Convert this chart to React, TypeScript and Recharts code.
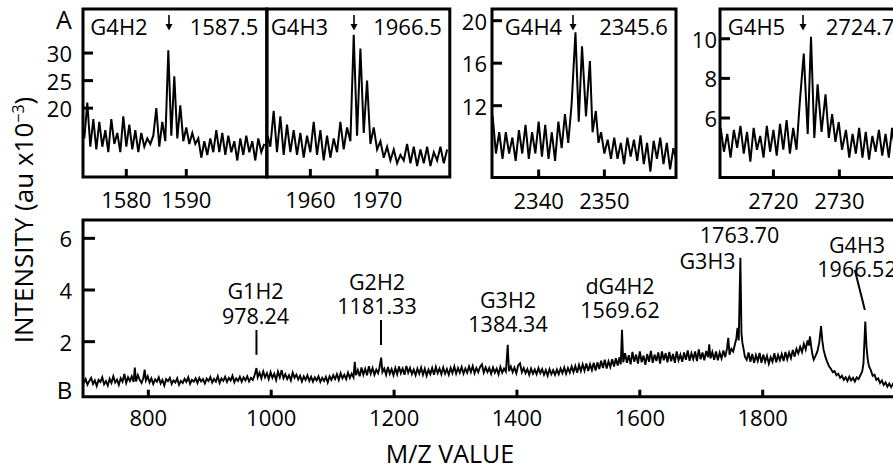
import React from "react";
import { LineChart, Line, XAxis, YAxis, ReferenceArea, ReferenceLine } from "recharts";

const FONT = '"Open Sans", sans-serif';

// panel A insets: [m/z, intensity au x10^-3]
const g4h2: [number, number][] = [
  [1573, 14.5], [1573.5, 21], [1574, 13], [1574.5, 18], [1575, 12.5], [1575.5, 17.5], [1576, 13], [1576.5, 16],
  [1577, 12], [1577.5, 18], [1578, 13.5], [1578.5, 15.5], [1579, 12], [1579.5, 18.5], [1580, 13], [1580.5, 17],
  [1581, 12.5], [1581.5, 16], [1582, 12], [1582.5, 15.5], [1583, 13], [1583.5, 14.5], [1584, 13.5], [1584.5, 15],
  [1585, 20], [1585.5, 13], [1586, 17.5], [1586.5, 14], [1587, 30.5], [1587.5, 15], [1588, 25.8], [1588.5, 14.5],
  [1589, 20.5], [1589.5, 14], [1590, 16.5], [1590.5, 13.5], [1591, 15.5], [1591.5, 13.5], [1592, 14.5], [1592.5, 11],
  [1593, 14], [1593.5, 11.5], [1594, 14.5], [1594.5, 12], [1595, 16], [1595.5, 12], [1596, 15.5], [1596.5, 11.5],
  [1597, 15], [1597.5, 12], [1598, 14], [1598.5, 10.5], [1599, 14.5], [1599.5, 11.5], [1600, 15], [1600.5, 12],
  [1601, 14], [1601.5, 10.5], [1602, 14.5], [1602.5, 12], [1603, 13.5],
];

const g4h3: [number, number][] = [
  [1953.6, 15], [1954, 13], [1954.5, 19.5], [1955, 12], [1955.5, 18.5], [1956, 11.5], [1956.5, 17], [1957, 12],
  [1957.5, 16], [1958, 11.5], [1958.5, 15.5], [1959, 11], [1959.5, 15], [1960, 12], [1960.5, 17.5], [1961, 11.5],
  [1961.5, 16], [1962, 10.5], [1962.5, 15], [1963, 11], [1963.5, 14.5], [1964, 12], [1964.5, 17.5], [1965, 12.5],
  [1965.5, 16.5], [1966, 14], [1966.5, 33.3], [1967, 15], [1967.5, 30.8], [1968, 15.5], [1968.5, 25], [1969, 13.5],
  [1969.5, 16.5], [1970, 12.5], [1970.5, 14], [1971, 11], [1971.5, 13], [1972, 10.5], [1972.5, 12.5], [1973, 10],
  [1973.5, 11.5], [1974, 10.5], [1974.5, 13.5], [1975, 10], [1975.5, 13], [1976, 9.5], [1976.5, 12.5], [1977, 10],
  [1977.5, 13], [1978, 9.5], [1978.5, 12], [1979, 10.5], [1979.5, 13], [1980, 10], [1980.5, 12.5],
];

const g4h4: [number, number][] = [
  [2333, 11], [2333.5, 7.5], [2334, 9.5], [2334.5, 7], [2335, 9.5], [2335.5, 7.5], [2336, 9], [2336.5, 6.8],
  [2337, 9.7], [2337.5, 7.5], [2338, 10.2], [2338.5, 7], [2339, 9.5], [2339.5, 7.5], [2340, 10.5], [2340.5, 7.2],
  [2341, 10.2], [2341.5, 7], [2342, 9.5], [2342.5, 6.8], [2343, 10.5], [2343.5, 8], [2344, 11.2], [2344.5, 8.5],
  [2345, 12], [2345.6, 18.9], [2346.1, 10.5], [2346.6, 17.6], [2347.2, 11], [2347.8, 16.2], [2348.2, 9.5], [2348.7, 11.5],
  [2349.1, 8.5], [2349.5, 9.5], [2350, 7.5], [2350.5, 8.8], [2351, 7], [2351.5, 9], [2352, 7], [2352.5, 8.5],
  [2353, 6.5], [2353.5, 9], [2354, 7.2], [2354.5, 8.8], [2355, 6.8], [2355.5, 9.2], [2356, 6.5], [2356.5, 8.5],
  [2357, 5.8], [2357.5, 8.7], [2358, 7], [2358.5, 9], [2359, 6.5], [2359.5, 8.5], [2360, 6], [2360.5, 8], [2360.9, 7],
];

const g4h5: [number, number][] = [
  [2712, 5.5], [2712.5, 4.3], [2713, 5.2], [2713.5, 4.0], [2714, 5.4], [2714.5, 4.5], [2715, 5.6], [2715.5, 4.2],
  [2716, 5.3], [2716.5, 3.8], [2717, 5.5], [2717.5, 4.4], [2718, 5.1], [2718.5, 4.0], [2719, 5.6], [2719.5, 4.3],
  [2720, 5.4], [2720.5, 4.1], [2721, 5.7], [2721.5, 4.4], [2722, 5.9], [2722.5, 4.2], [2723, 5.5], [2723.5, 4.4],
  [2724, 6.8], [2724.6, 9.25], [2725.2, 5.2], [2725.7, 10.1], [2726.2, 5.0], [2726.7, 7.7], [2727.3, 5.3], [2727.9, 7.2],
  [2728.4, 5.0], [2728.9, 6.2], [2729.4, 4.8], [2729.9, 5.8], [2730.4, 4.4], [2731, 5.4], [2731.5, 4.0], [2732, 5.2],
  [2732.5, 4.2], [2733, 5.5], [2733.5, 4.0], [2734, 5.3], [2734.5, 3.9], [2735, 5.1], [2735.5, 4.3], [2736, 5.4],
  [2736.5, 4.1], [2737, 5.2], [2737.5, 4.0], [2738, 5.5], [2738.5, 4.2], [2739, 5.0], [2739.5, 4.4],
];

// panel B full spectrum
const spectrumB: [number, number][] = [
  [695, .40], [698, .55], [701, .33], [704, .48], [707, .60], [710, .36], [713, .50], [716, .28], [719, .52], [722, .44],
  [725, .62], [728, .35], [731, .47], [734, .30], [737, .56], [740, .40], [743, .66], [746, .42], [749, .53], [752, .33],
  [755, .58], [758, .45], [761, .75], [764, .40], [767, .62], [770, .48], [773, .66], [776, .44], [778, 1.0], [780, .46],
  [783, .70], [786, .52], [789, .40], [792, .60], [794, .92], [796, .50], [799, .66], [802, .42], [805, .58], [808, .36],
  [811, .54], [814, .45], [817, .62], [820, .38], [823, .52], [826, .30], [829, .55], [832, .47], [835, .60], [838, .36],
  [841, .50], [844, .42], [847, .58], [850, .33], [853, .48], [856, .40], [859, .56], [862, .44], [865, .62], [868, .37],
  [871, .52], [874, .45], [877, .58], [880, .40], [883, .60], [886, .46], [889, .55], [892, .38], [895, .57], [898, .48],
  [901, .63], [904, .42], [907, .56], [910, .45], [913, .66], [916, .40], [919, .58], [922, .48], [925, .64], [928, .44],
  [931, .60], [934, .50], [937, .68], [940, .43], [943, .58], [946, .48], [949, .64], [952, .45], [955, .62], [958, .50],
  [961, .66], [964, .46], [967, .60], [970, .52], [973, .70], [976, .98], [978, .62], [981, .80], [984, .58], [987, .85],
  [990, .62], [993, .78], [996, .55], [999, .82], [1002, .60], [1005, .76], [1008, .52], [1011, .84], [1014, .62], [1017, .90],
  [1020, .58], [1023, .74], [1026, .55], [1029, .70], [1032, .50], [1035, .80], [1038, .60], [1041, .72], [1044, .54], [1047, .68],
  [1050, .46], [1053, .66], [1056, .52], [1059, .70], [1062, .48], [1065, .64], [1068, .45], [1071, .62], [1074, .50], [1077, .66],
  [1080, .44], [1083, .60], [1086, .48], [1089, .64], [1092, .42], [1095, .66], [1098, .52], [1101, .70], [1104, .55], [1107, .74],
  [1110, .52], [1113, .78], [1116, .58], [1119, .72], [1122, .55], [1125, .80], [1128, .60], [1131, .76], [1134, .62], [1136, 1.22],
  [1138, .70], [1141, .90], [1144, .66], [1147, 1.0], [1150, .72], [1153, .95], [1156, .70], [1159, 1.05], [1162, .76], [1165, .98],
  [1168, .72], [1171, .92], [1174, .78], [1176, .96], [1179, 1.38], [1181, .82], [1184, .96], [1187, .72], [1190, 1.02], [1193, .76],
  [1196, .94], [1199, .70], [1202, .98], [1205, .74], [1208, 1.04], [1211, .78], [1214, .96], [1217, .72], [1220, 1.06], [1223, .80],
  [1226, .98], [1229, .74], [1232, .92], [1235, .70], [1238, .96], [1241, .76], [1244, 1.0], [1247, .72], [1250, .95], [1253, .68],
  [1256, .92], [1259, .74], [1262, .98], [1265, .72], [1268, 1.02], [1271, .78], [1274, .96], [1277, .74], [1280, 1.0], [1283, .76],
  [1286, .94], [1289, .72], [1292, .98], [1295, .78], [1298, 1.04], [1301, .76], [1304, .98], [1307, .80], [1310, 1.02], [1313, .76],
  [1316, .96], [1319, .80], [1322, 1.04], [1325, .82], [1328, 1.06], [1331, .78], [1334, .98], [1337, .82], [1340, 1.02], [1343, 1.12],
  [1346, .80], [1349, 1.0], [1352, .82], [1355, .98], [1358, .76], [1361, 1.0], [1364, .80], [1367, .96], [1370, .74], [1373, 1.02],
  [1376, .80], [1379, .96], [1382, .84], [1385, 1.88], [1387, .86], [1390, 1.04], [1393, .82], [1396, 1.0], [1399, .78], [1402, 1.08],
  [1405, 1.16], [1408, .82], [1411, .98], [1414, .78], [1417, .94], [1420, .72], [1423, .96], [1426, .76], [1429, .92], [1432, .74],
  [1435, .98], [1438, .78], [1441, .94], [1444, .72], [1447, .90], [1450, .68], [1453, .94], [1456, .74], [1459, .90], [1462, .72],
  [1465, .92], [1468, .74], [1471, .96], [1474, .78], [1477, 1.0], [1480, .76], [1483, .98], [1486, .80], [1489, 1.04], [1492, .82],
  [1495, 1.06], [1498, .80], [1501, 1.10], [1504, .86], [1507, 1.12], [1510, .88], [1513, 1.16], [1516, .86], [1519, 1.12], [1522, .90],
  [1525, 1.18], [1528, .88], [1531, 1.20], [1534, .94], [1537, 1.26], [1540, .98], [1543, 1.30], [1546, .96], [1549, 1.24], [1552, 1.02],
  [1555, 1.32], [1558, 1.04], [1561, 1.36], [1564, 1.08], [1567, 1.40], [1569, 1.12], [1571, 2.46], [1573, 1.20], [1576, 1.55], [1579, 1.18],
  [1582, 1.48], [1585, 1.12], [1588, 1.60], [1591, 1.22], [1594, 1.50], [1597, 1.15], [1600, 1.62], [1603, 1.20], [1606, 1.46], [1609, 1.10],
  [1612, 1.52], [1615, 1.22], [1618, 1.64], [1621, 1.18], [1624, 1.50], [1627, 1.25], [1630, 1.58], [1633, 1.15], [1636, 1.62], [1639, 1.28],
  [1642, 1.55], [1645, 1.20], [1648, 1.60], [1651, 1.24], [1654, 1.52], [1657, 1.18], [1660, 1.62], [1663, 1.28], [1666, 1.50], [1669, 1.22],
  [1672, 1.58], [1675, 1.30], [1678, 1.66], [1681, 1.26], [1684, 1.55], [1687, 1.32], [1690, 1.62], [1693, 1.25], [1696, 1.70], [1699, 1.32],
  [1702, 1.58], [1705, 1.28], [1708, 1.64], [1711, 1.40], [1713, 1.90], [1715, 1.35], [1718, 1.60], [1721, 1.30], [1724, 1.62], [1727, 1.28],
  [1730, 1.58], [1733, 1.35], [1736, 1.66], [1739, 1.40], [1742, 1.75], [1744, 2.15], [1746, 1.50], [1749, 1.72], [1752, 1.62], [1755, 1.92],
  [1757, 2.10], [1759, 2.53], [1761, 2.05], [1763.7, 5.25], [1765.5, 2.30], [1767, 1.95], [1769, 1.70], [1771, 1.42], [1774, 1.30], [1777, 1.58],
  [1780, 1.22], [1783, 1.52], [1786, 1.18], [1789, 1.48], [1792, 1.25], [1795, 1.56], [1798, 1.18], [1801, 1.50], [1804, 1.22], [1807, 1.45],
  [1810, 1.15], [1813, 1.40], [1816, 1.22], [1819, 1.55], [1822, 1.20], [1825, 1.48], [1828, 1.28], [1831, 1.52], [1834, 1.25], [1837, 1.60],
  [1840, 1.32], [1843, 1.58], [1846, 1.36], [1849, 1.68], [1852, 1.42], [1855, 1.72], [1858, 1.55], [1861, 1.80], [1864, 1.60], [1867, 1.92],
  [1870, 1.70], [1873, 2.05], [1875, 1.85], [1877, 2.20], [1879, 1.80], [1881, 1.50], [1883, 1.30], [1886, 1.45], [1889, 1.62], [1892, 1.95],
  [1895, 2.60], [1897, 2.05], [1899, 1.70], [1902, 1.42], [1905, 1.22], [1908, 1.05], [1911, .95], [1914, .82], [1917, .86], [1920, .70],
  [1923, .76], [1926, .60], [1929, .68], [1932, .52], [1935, .62], [1938, .48], [1941, .64], [1944, .50], [1947, .60], [1950, .46],
  [1953, .62], [1956, .55], [1959, .70], [1962, .85], [1964, 1.15], [1967, 2.78], [1969, 1.80], [1971, 1.30], [1973, 1.05], [1976, .90],
  [1979, .68], [1982, .72], [1985, .52], [1988, .58], [1991, .40], [1994, .50], [1997, .32], [2000, .42], [2003, .26], [2006, .38],
  [2009, .24], [2012, .36], [2015, .22], [2018, .34], [2021, .26], [2024, .38], [2027, .28], [2030, .33],
];

const mainXTicks = [800, 1000, 1200, 1400, 1600, 1800];
const mainYTicks = [2, 4, 6];

type PanelProps = {
  box: [number, number, number, number];
  data: [number, number][];
  xDomain: [number, number];
  yDomain: [number, number];
  xTicks: number[];
  yTicks: number[];
  xTickLen: number;
  yTickLen: number;
  yLabelGap: number;
  xLabelDy: number;
  lineWidth: number;
  children?: React.ReactNode;
};

const PAD = { top: 12, right: 12, bottom: 40, left: 60 };

function Panel(p: PanelProps) {
  const [x0, y0, x1, y1] = p.box;
  const w = x1 - x0 + PAD.left + PAD.right;
  const h = y1 - y0 + PAD.top + PAD.bottom;
  const rows = p.data.map(([mz, v]) => ({ mz, v }));

  // ticks point inward, labels sit outside the frame
  const xTick = (t: any) => (
    <g>
      <line x1={t.x} x2={t.x} y1={t.y} y2={t.y - p.xTickLen} stroke="#000" strokeWidth={3} />
      <text x={t.x} y={t.y + p.xLabelDy} textAnchor="middle" dominantBaseline="central" fontSize={22} fill="#000">
        {t.payload.value}
      </text>
    </g>
  );
  const yTick = (t: any) => (
    <g>
      <line x1={t.x} x2={t.x + p.yTickLen} y1={t.y} y2={t.y} stroke="#000" strokeWidth={3} />
      <text x={t.x - p.yLabelGap} y={t.y} textAnchor="end" dominantBaseline="central" fontSize={22} fill="#000">
        {t.payload.value}
      </text>
    </g>
  );

  return (
    <div style={{ position: "absolute", left: x0 - PAD.left, top: y0 - PAD.top }}>
      <LineChart
        width={w}
        height={h}
        data={rows}
        margin={{ top: PAD.top, right: PAD.right, bottom: PAD.bottom - 1, left: PAD.left - 1 }}
      >
        <XAxis
          type="number"
          dataKey="mz"
          domain={p.xDomain}
          ticks={p.xTicks}
          interval={0}
          allowDataOverflow
          height={1}
          tickSize={0}
          tickMargin={0}
          tickLine={false}
          axisLine={false}
          tick={xTick}
        />
        <YAxis
          type="number"
          domain={p.yDomain}
          ticks={p.yTicks}
          interval={0}
          allowDataOverflow
          width={1}
          tickSize={0}
          tickMargin={0}
          tickLine={false}
          axisLine={false}
          tick={p.yTicks.length ? yTick : false}
        />
        <ReferenceArea
          x1={p.xDomain[0]}
          x2={p.xDomain[1]}
          y1={p.yDomain[0]}
          y2={p.yDomain[1]}
          fill="none"
          fillOpacity={0}
          stroke="#000"
          strokeWidth={3}
          strokeOpacity={1}
        />
        {p.children}
        <Line
          dataKey="v"
          type="linear"
          dot={false}
          stroke="#000"
          strokeWidth={p.lineWidth}
          isAnimationActive={false}
        />
      </LineChart>
    </div>
  );
}

function Txt({ x, y, children, size = 22, lh = 1 }: { x: number; y: number; children: React.ReactNode; size?: number; lh?: number | string }) {
  return (
    <div
      style={{
        position: "absolute",
        left: x,
        top: y,
        transform: "translate(-50%, -50%)",
        fontSize: size,
        lineHeight: lh,
        whiteSpace: "nowrap",
        textAlign: "center",
      }}
    >
      {children}
    </div>
  );
}

function Arrow({ x }: { x: number }) {
  return (
    <svg width={10} height={16} style={{ position: "absolute", left: x - 5, top: 15 }}>
      <line x1={5} x2={5} y1={0} y2={11} stroke="#000" strokeWidth={1.6} />
      <polygon points="1.5,9 8.5,9 5,15.5" fill="#000" />
    </svg>
  );
}

export default function App() {
  return (
    <div
      style={{
        position: "absolute",
        left: 0,
        top: 0,
        width: 893,
        height: 468,
        overflow: "hidden",
        background: "#fff",
        fontFamily: FONT,
        color: "#000",
      }}
    >
      <Panel box={[83, 9, 266.7, 177]} data={g4h2} xDomain={[1572.78, 1603.4]} yDomain={[7.5, 38]}
        xTicks={[1580, 1590]} yTicks={[20, 25, 30]} xTickLen={8} yTickLen={10} yLabelGap={11} xLabelDy={22} lineWidth={2} />
      <Panel box={[266.7, 9, 449.5, 177]} data={g4h3} xDomain={[1953.5, 1980.9]} yDomain={[7.5, 38]}
        xTicks={[1960, 1970]} yTicks={[]} xTickLen={8} yTickLen={10} yLabelGap={11} xLabelDy={22} lineWidth={2} />
      <Panel box={[492, 9, 676, 177.5]} data={g4h4} xDomain={[2332.9, 2360.9]} yDomain={[5.24, 21.1]}
        xTicks={[2340, 2350]} yTicks={[12, 16, 20]} xTickLen={8} yTickLen={10} yLabelGap={5} xLabelDy={22} lineWidth={2} />
      <Panel box={[720, 9, 904, 177.5]} data={g4h5} xDomain={[2711.9, 2739.8]} yDomain={[3.0, 11.5]}
        xTicks={[2720, 2730]} yTicks={[6, 8, 10]} xTickLen={8} yTickLen={10} yLabelGap={3} xLabelDy={22} lineWidth={2} />
      <Panel box={[83, 220, 905, 396.7]} data={spectrumB} xDomain={[693.7, 2031.6]} yDomain={[-0.13, 6.71]}
        xTicks={mainXTicks} yTicks={mainYTicks} xTickLen={7} yTickLen={12} yLabelGap={11} xLabelDy={20} lineWidth={1.9}>
        <ReferenceLine segment={[{ x: 976, y: 1.49 }, { x: 976, y: 2.45 }]} stroke="#000" strokeWidth={2} ifOverflow="visible" />
        <ReferenceLine segment={[{ x: 1178.7, y: 1.87 }, { x: 1178.7, y: 2.84 }]} stroke="#000" strokeWidth={2} ifOverflow="visible" />
        <ReferenceLine segment={[{ x: 1950, y: 4.77 }, { x: 1966.3, y: 3.23 }]} stroke="#000" strokeWidth={2} ifOverflow="visible" />
      </Panel>

      {/* inset titles */}
      <Txt x={119} y={26}>G4H2</Txt>
      <Arrow x={169} />
      <Txt x={224} y={26}>1587.5</Txt>
      <Txt x={299.5} y={26}>G4H3</Txt>
      <Arrow x={354} />
      <Txt x={407.5} y={26}>1966.5</Txt>
      <Txt x={533.5} y={26}>G4H4</Txt>
      <Arrow x={573} />
      <Txt x={633.5} y={26}>2345.6</Txt>
      <Txt x={756.5} y={26}>G4H5</Txt>
      <Arrow x={803} />
      <Txt x={860} y={26}>2724.7</Txt>

      {/* peak labels panel B */}
      <Txt x={255.5} y={303} size={21.5} lh="25px">G1H2<br />978.24</Txt>
      <Txt x={377} y={294} size={21.5} lh="24px">G2H2<br />1181.33</Txt>
      <Txt x={508} y={312} size={21.5} lh="24px">G3H2<br />1384.34</Txt>
      <Txt x={620} y={297.5} size={21.5} lh="24px">dG4H2<br />1569.62</Txt>
      <Txt x={739.5} y={235} size={21.5}>1763.70</Txt>
      <Txt x={707.5} y={261} size={21.5}>G3H3</Txt>
      <Txt x={857} y={256.5} size={21.5} lh="24px">G4H3<br />1966.52</Txt>

      {/* panel letters and axis titles */}
      <Txt x={64} y={18.5} size={25}>A</Txt>
      <Txt x={64.5} y={390} size={24}>B</Txt>
      <Txt x={450} y={453} size={25}>M/Z VALUE</Txt>
      <div
        style={{
          position: "absolute",
          left: 23,
          top: 220,
          transform: "translate(-50%, -50%) rotate(-90deg)",
          fontSize: 26,
          lineHeight: 1,
          whiteSpace: "nowrap",
        }}
      >
        INTENSITY (au x10<span style={{ fontSize: 16, verticalAlign: 9 }}>−3</span>)
      </div>
    </div>
  );
}
